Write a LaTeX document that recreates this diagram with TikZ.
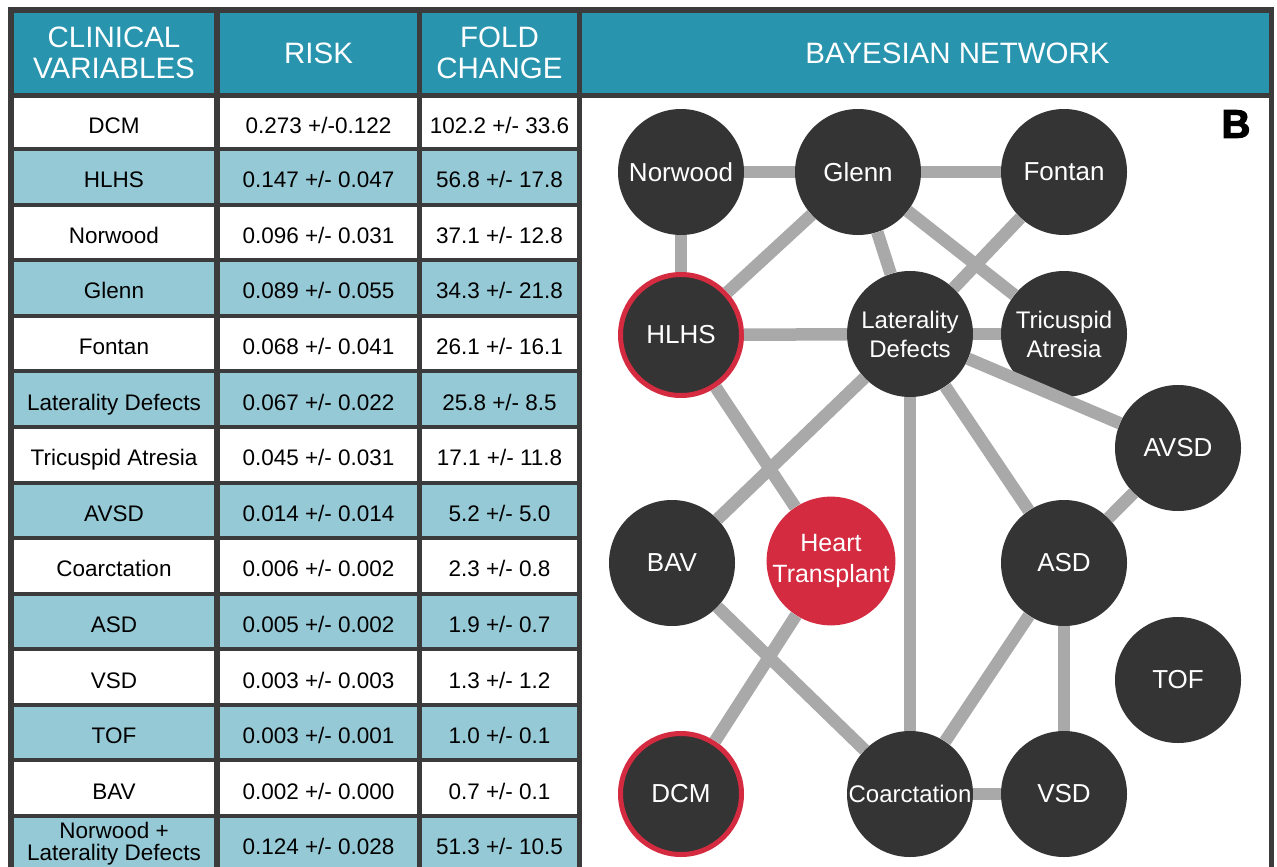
\documentclass[tikz,border=0pt]{standalone}
\usepackage{fontspec}
\setmainfont{Liberation Sans}
\newfontfamily\tagfont{Liberation Sans}[BoldFeatures={FakeBold=2.5}]

\definecolor{framegray}{HTML}{3B3B3B}
\definecolor{headblue}{HTML}{2894AE}
\definecolor{rowblue}{HTML}{96C9D6}
\definecolor{nodegray}{HTML}{343434}
\definecolor{netred}{HTML}{D42B41}
\definecolor{edgegray}{HTML}{A9A9A9}

\tikzset{
  head/.style={fill=headblue, text=white, inner sep=0pt, outer sep=0pt,
    minimum height=80pt, align=center, font=\fontsize{29.5}{31}\selectfont},
  cell/.style={inner sep=0pt, outer sep=0pt, minimum height=51.6pt,
    font=\fontsize{22.5}{22}\selectfont},
  val/.style={cell, text height=22pt, text depth=0pt},
  colA/.style={minimum width=200pt},
  colB/.style={minimum width=197pt},
  colC/.style={minimum width=155pt},
  var/.style={circle, fill=nodegray, minimum size=126pt, inner sep=0pt,
    text=white, align=center, font=\fontsize{26}{30}\selectfont},
  hit/.style={var, draw=netred, line width=5pt, minimum size=121pt},
  two/.style={font=\fontsize{24}{29}\selectfont},
}

\begin{document}
\begin{tikzpicture}[x=1pt,y=-1pt,every edge/.style={draw=edgegray, line width=12.5pt}]
   \clip (0,0) rectangle (1277,867);
   \fill[framegray] (8,7) rectangle (1274,900);
   \fill[white] (582,98) rectangle (1269,900);

   % header
   \node[head, colA] (h1) at (114,53) {CLINICAL\\VARIABLES};
   \node[head, colB] (h2) at (318.5,53) {RISK};
   \node[head, colC] (h3) at (499.5,53) {FOLD\\CHANGE};
   \node[head, minimum width=687pt] (h4) at (925.5,53) {\hspace*{64pt}BAYESIAN NETWORK};

   % table
   \node[val, colA, fill=white, minimum height=49pt] (r0a) at (114,122.5) {DCM};
   \node[val, colB, fill=white, minimum height=49pt] (r0b) at (318.5,122.5) {0.273 +/-0.122};
   \node[val, colC, fill=white, minimum height=49pt] (r0c) at (499.5,122.5) {102.2 +/- 33.6};
   \node[val, colA, fill=rowblue] (r1a) at (114,176.8) {HLHS};
   \node[val, colB, fill=rowblue] (r1b) at (318.5,176.8) {0.147 +/- 0.047};
   \node[val, colC, fill=rowblue] (r1c) at (499.5,176.8) {56.8 +/- 17.8};
   \node[val, colA, fill=white] (r2a) at (114,232.4) {Norwood};
   \node[val, colB, fill=white] (r2b) at (318.5,232.4) {0.096 +/- 0.031};
   \node[val, colC, fill=white] (r2c) at (499.5,232.4) {37.1 +/- 12.8};
   \node[val, colA, fill=rowblue] (r3a) at (114,287.9) {Glenn};
   \node[val, colB, fill=rowblue] (r3b) at (318.5,287.9) {0.089 +/- 0.055};
   \node[val, colC, fill=rowblue] (r3c) at (499.5,287.9) {34.3 +/- 21.8};
   \node[val, colA, fill=white] (r4a) at (114,343.5) {Fontan};
   \node[val, colB, fill=white] (r4b) at (318.5,343.5) {0.068 +/- 0.041};
   \node[val, colC, fill=white] (r4c) at (499.5,343.5) {26.1 +/- 16.1};
   \node[val, colA, fill=rowblue] (r5a) at (114,399.1) {Laterality Defects};
   \node[val, colB, fill=rowblue] (r5b) at (318.5,399.1) {0.067 +/- 0.022};
   \node[val, colC, fill=rowblue] (r5c) at (499.5,399.1) {25.8 +/- 8.5};
   \node[val, colA, fill=white] (r6a) at (114,454.7) {Tricuspid Atresia};
   \node[val, colB, fill=white] (r6b) at (318.5,454.7) {0.045 +/- 0.031};
   \node[val, colC, fill=white] (r6c) at (499.5,454.7) {17.1 +/- 11.8};
   \node[val, colA, fill=rowblue] (r7a) at (114,510.3) {AVSD};
   \node[val, colB, fill=rowblue] (r7b) at (318.5,510.3) {0.014 +/- 0.014};
   \node[val, colC, fill=rowblue] (r7c) at (499.5,510.3) {5.2 +/- 5.0};
   \node[val, colA, fill=white] (r8a) at (114,565.8) {Coarctation};
   \node[val, colB, fill=white] (r8b) at (318.5,565.8) {0.006 +/- 0.002};
   \node[val, colC, fill=white] (r8c) at (499.5,565.8) {2.3 +/- 0.8};
   \node[val, colA, fill=rowblue] (r9a) at (114,621.4) {ASD};
   \node[val, colB, fill=rowblue] (r9b) at (318.5,621.4) {0.005 +/- 0.002};
   \node[val, colC, fill=rowblue] (r9c) at (499.5,621.4) {1.9 +/- 0.7};
   \node[val, colA, fill=white] (r10a) at (114,677) {VSD};
   \node[val, colB, fill=white] (r10b) at (318.5,677) {0.003 +/- 0.003};
   \node[val, colC, fill=white] (r10c) at (499.5,677) {1.3 +/- 1.2};
   \node[val, colA, fill=rowblue] (r11a) at (114,732.6) {TOF};
   \node[val, colB, fill=rowblue] (r11b) at (318.5,732.6) {0.003 +/- 0.001};
   \node[val, colC, fill=rowblue] (r11c) at (499.5,732.6) {1.0 +/- 0.1};
   \node[val, colA, fill=white] (r12a) at (114,788.2) {BAV};
   \node[val, colB, fill=white] (r12b) at (318.5,788.2) {0.002 +/- 0.000};
   \node[val, colC, fill=white] (r12c) at (499.5,788.2) {0.7 +/- 0.1};
   \node[cell, colA, fill=rowblue, align=center] (r13a) at (114,843.7) {Norwood +\\Laterality Defects};
   \node[val, colB, fill=rowblue] (r13b) at (318.5,843.7) {0.124 +/- 0.028};
   \node[val, colC, fill=rowblue] (r13c) at (499.5,843.7) {51.3 +/- 10.5};

   % network
   \node[font=\tagfont\bfseries\fontsize{40}{40}\selectfont] (tag) at (1236,124) {B};
   \node[var] (nw) at (681,172) {Norwood};
   \node[var] (gl) at (858,172) {Glenn};
   \node[var] (fo) at (1064,172) {Fontan};
   \node[hit] (hl) at (681,335) {HLHS};
   \node[var, two] (ld) at (910,334) {Laterality\\Defects};
   \node[var, two] (ta) at (1064,334) {Tricuspid\\Atresia};
   \node[var] (av) at (1178,448) {AVSD};
   \node[var] (bav) at (672,563) {BAV};
   \node[var, two, fill=netred, font=\fontsize{25}{31}\selectfont] (ht) at (831,561) {Heart\\Transplant};
   \node[var] (asd) at (1064,563) {ASD};
   \node[var] (tof) at (1178,680) {TOF};
   \node[hit] (dcm) at (681,794) {DCM};
   \node[var, font=\fontsize{24}{29}\selectfont] (co) at (910,794) {Coarctation};
   \node[var] (vsd) at (1064,794) {VSD};
   \path (nw) edge (gl);
   \path (gl) edge (fo);
   \path (nw) edge (hl);
   \path (hl) edge (gl);
   \path (gl) edge (ld);
   \path (gl) edge (ta);
   \path (fo) edge (ld);
   \path (hl) edge (ld);
   \path (ld) edge (ta);
   \path (ld) edge (av);
   \path (ld) edge (bav);
   \path (hl) edge (ht);
   \path (ld) edge (co);
   \path (ld) edge (asd);
   \path (av) edge (asd);
   \path (bav) edge (co);
   \path (ht) edge (dcm);
   \path (asd) edge (co);
   \path (asd) edge (vsd);
   \path (co) edge (vsd);

\end{tikzpicture}
\end{document}
